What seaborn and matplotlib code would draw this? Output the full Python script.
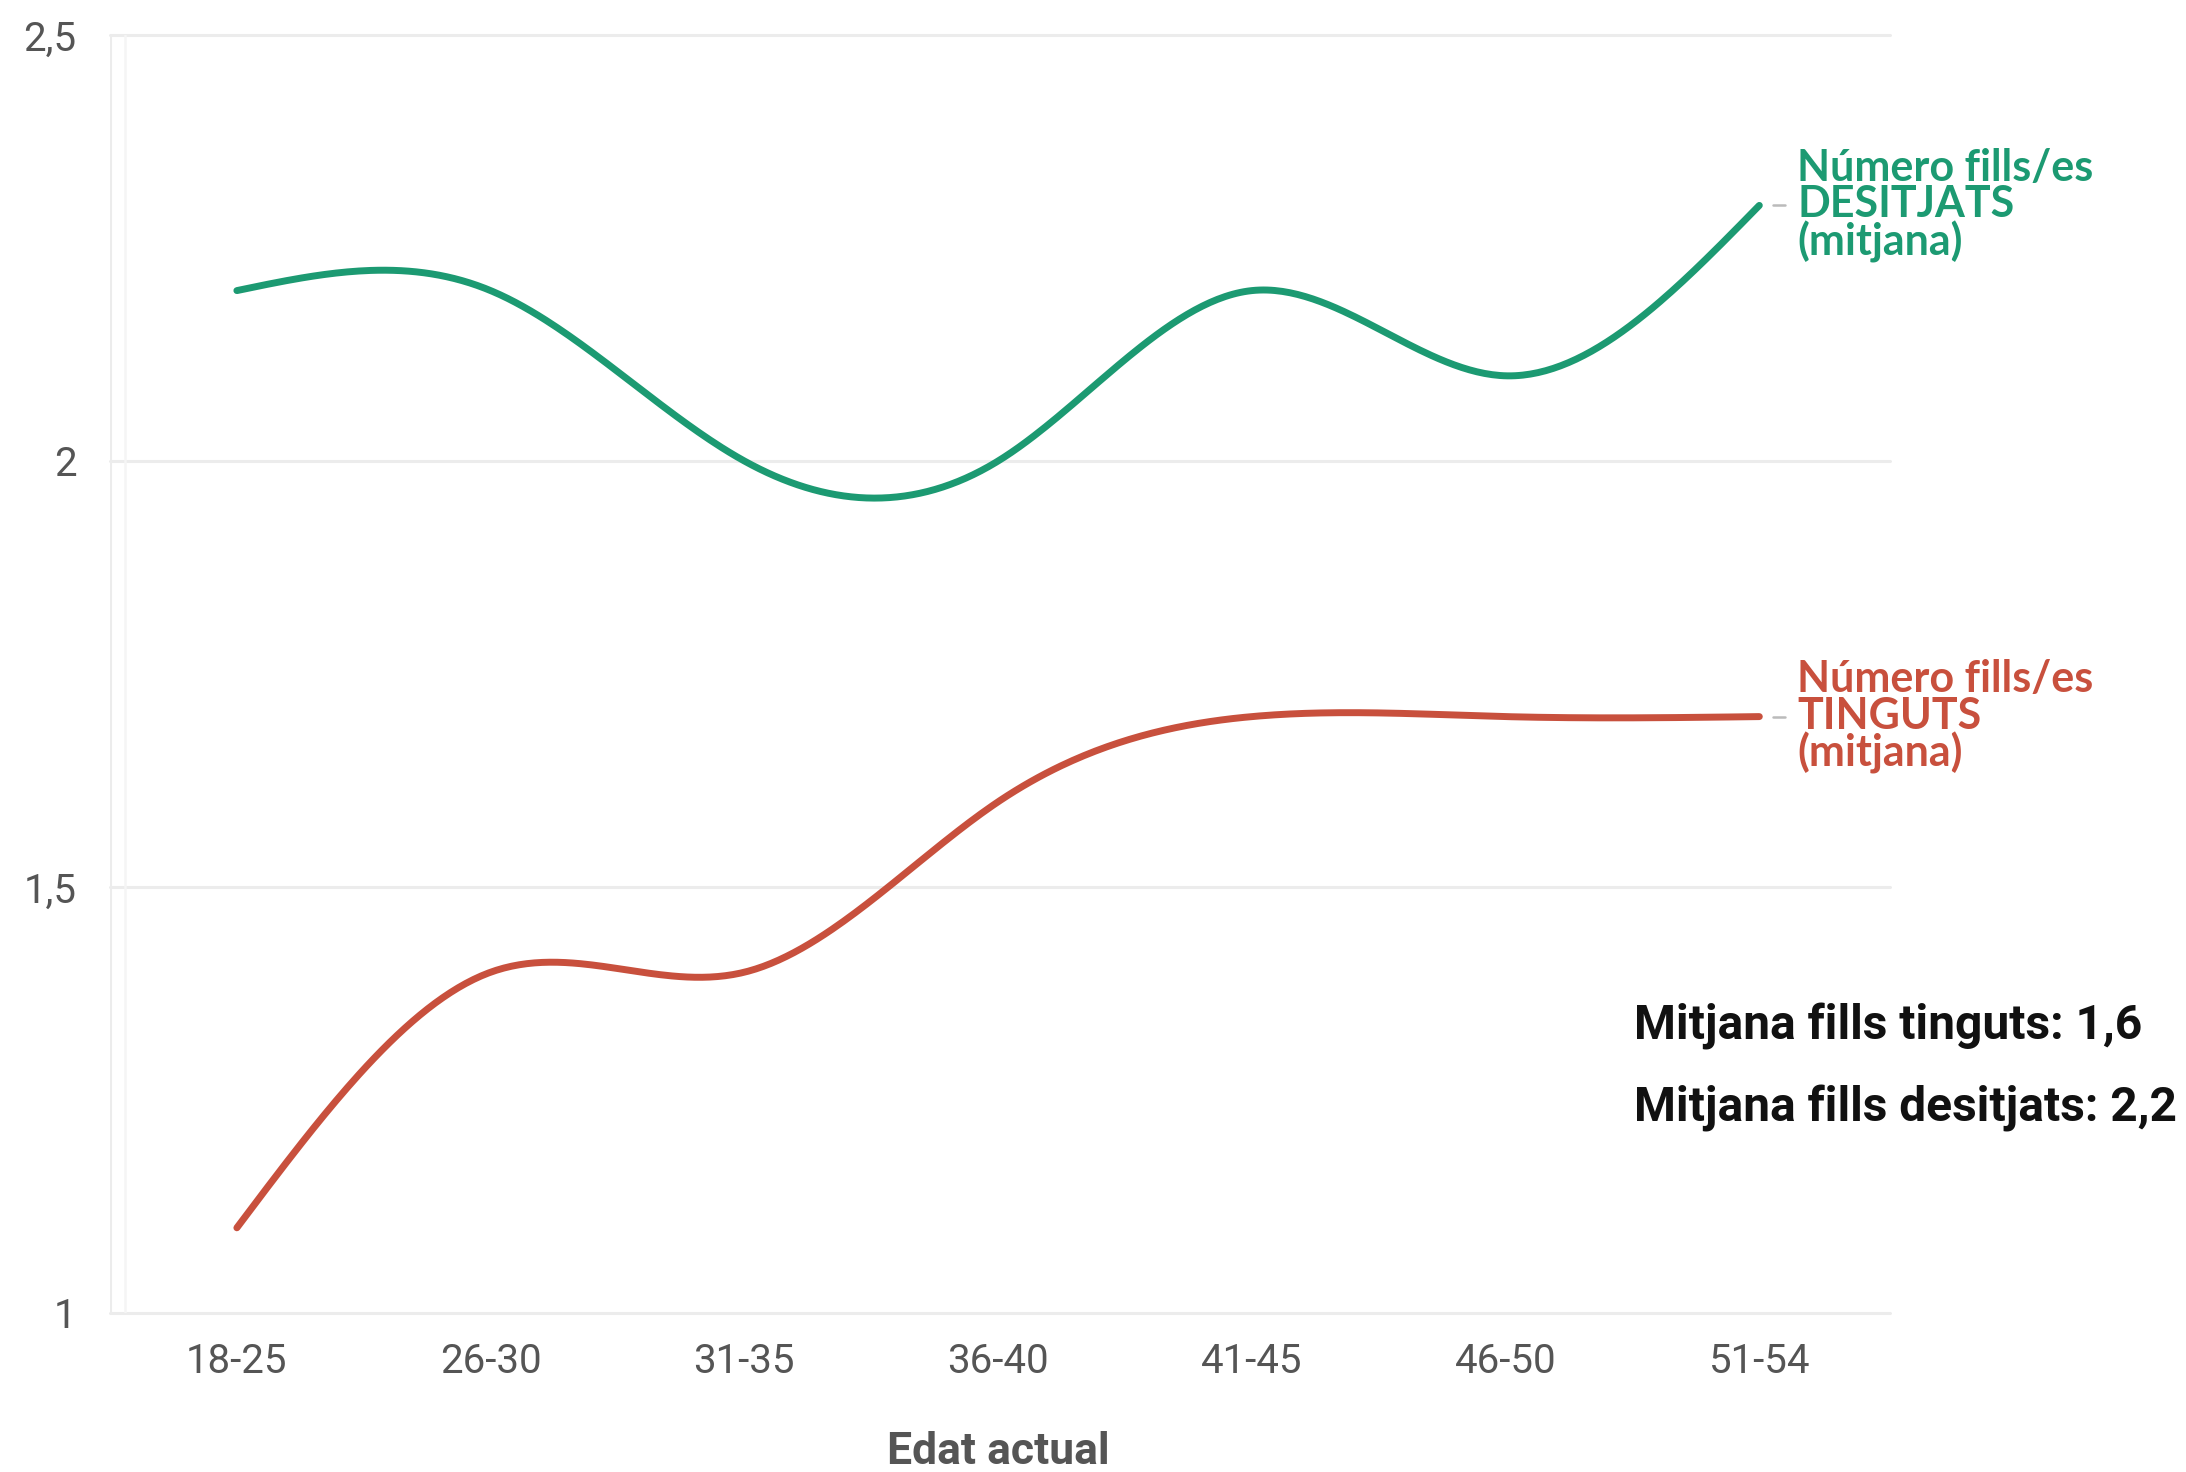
import numpy as np
import pandas as pd
import matplotlib
matplotlib.use("Agg")
import matplotlib.pyplot as plt
import seaborn as sns

# ---- data ----
age_groups = ["18-25", "26-30", "31-35", "36-40", "41-45", "46-50", "51-54"]
desired = [2.2, 2.2, 2.0, 2.0, 2.2, 2.1, 2.3]
had = [1.1, 1.4, 1.4, 1.6, 1.7, 1.7, 1.7]
y_ticks = [1, 1.5, 2, 2.5]
y_tick_labels = ["1", "1,5", "2", "2,5"]
label_desired = "Número fills/es\nDESITJATS\n(mitjana)"
label_had = "Número fills/es\nTINGUTS\n(mitjana)"
note_had = "Mitjana fills tinguts: 1,6"
note_desired = "Mitjana fills desitjats: 2,2"
x_title = "Edat actual"

GREEN = "#1c9a72"
RED = "#c8503d"
GRID = "#ececec"
TICKTXT = "#555555"


def natural_spline(xs, ys, n=400):
    xs = np.asarray(xs, float)
    ys = np.asarray(ys, float)
    k = len(xs)
    h = np.diff(xs)
    A = np.zeros((k, k))
    b = np.zeros(k)
    A[0, 0] = A[-1, -1] = 1
    for i in range(1, k - 1):
        A[i, i - 1] = h[i - 1]
        A[i, i] = 2 * (h[i - 1] + h[i])
        A[i, i + 1] = h[i]
        b[i] = 3 * ((ys[i + 1] - ys[i]) / h[i] - (ys[i] - ys[i - 1]) / h[i - 1])
    c = np.linalg.solve(A, b)
    bb = np.zeros(k - 1)
    d = np.zeros(k - 1)
    for i in range(k - 1):
        bb[i] = (ys[i + 1] - ys[i]) / h[i] - h[i] * (2 * c[i] + c[i + 1]) / 3
        d[i] = (c[i + 1] - c[i]) / (3 * h[i])
    xx = np.linspace(xs[0], xs[-1], n)
    idx = np.clip(np.searchsorted(xs, xx) - 1, 0, k - 2)
    dx = xx - xs[idx]
    yy = ys[idx] + bb[idx] * dx + c[idx] * dx ** 2 + d[idx] * dx ** 3
    return xx, yy


sns.set_theme(style="white")
plt.rcParams["font.family"] = ["Roboto", "DejaVu Sans"]

fig = plt.figure(figsize=(21.86, 14.72), dpi=100)
ax = fig.add_axes([110 / 2186, 1 - 1313 / 1472, (1890 - 110) / 2186, (1313 - 35) / 1472])

pos = np.arange(len(age_groups))
frames = []
for name, vals in [("desired", desired), ("had", had)]:
    xx, yy = natural_spline(pos, vals)
    frames.append(pd.DataFrame({"x": xx, "y": yy, "serie": name}))
df = pd.concat(frames, ignore_index=True)

sns.lineplot(data=df, x="x", y="y", hue="serie", palette={"desired": GREEN, "had": RED},
             linewidth=5, legend=False, ax=ax, sort=False, zorder=3)

ax.set_xlim(-0.5, 6.515)
ax.set_ylim(1, 2.5)
for s in ax.spines.values():
    s.set_visible(False)

ax.set_yticks(y_ticks)
ax.set_yticklabels(y_tick_labels)
ax.set_xticks(pos)
ax.set_xticklabels(age_groups)
ax.tick_params(axis="y", length=18, width=2, color=GRID, pad=6, labelsize=29, labelcolor=TICKTXT)
ax.tick_params(axis="x", length=12, width=2, color=GRID, pad=9, labelsize=29, labelcolor=TICKTXT)
for t in y_ticks:
    ax.axhline(t, color=GRID, lw=2.2, zorder=1, clip_on=False)
ax.axvline(-0.5, color="#ececec", lw=2.2, zorder=1)
ax.axvline(-0.44, color="#f5f5f5", lw=1.8, zorder=1)

ax.set_xlabel("")
ax.set_ylabel("")
fig.text(998 / 2186, 1 - 1464 / 1472, x_title, fontsize=32, fontweight="bold",
         color="#555555", ha="center", va="baseline")

# end labels
for vals, lab, col in [(desired, label_desired, GREEN), (had, label_had, RED)]:
    yv = vals[-1]
    ax.plot([6.054, 6.10], [yv, yv], color="#bbbbbb", lw=1.8, zorder=2)
    ax.text(6.149, yv, lab, color=col, fontsize=31, fontweight="bold", family=["Lato", "DejaVu Sans"],
            va="center", ha="left", linespacing=0.9)

fig.text(1634 / 2186, 1 - 1026 / 1472, note_had, fontsize=34.5, fontweight="bold",
         color="#111111", va="center", ha="left")
fig.text(1634 / 2186, 1 - 1108 / 1472, note_desired, fontsize=34.5, fontweight="bold",
         color="#111111", va="center", ha="left")

fig.savefig("out.png", dpi=100, facecolor="white")
